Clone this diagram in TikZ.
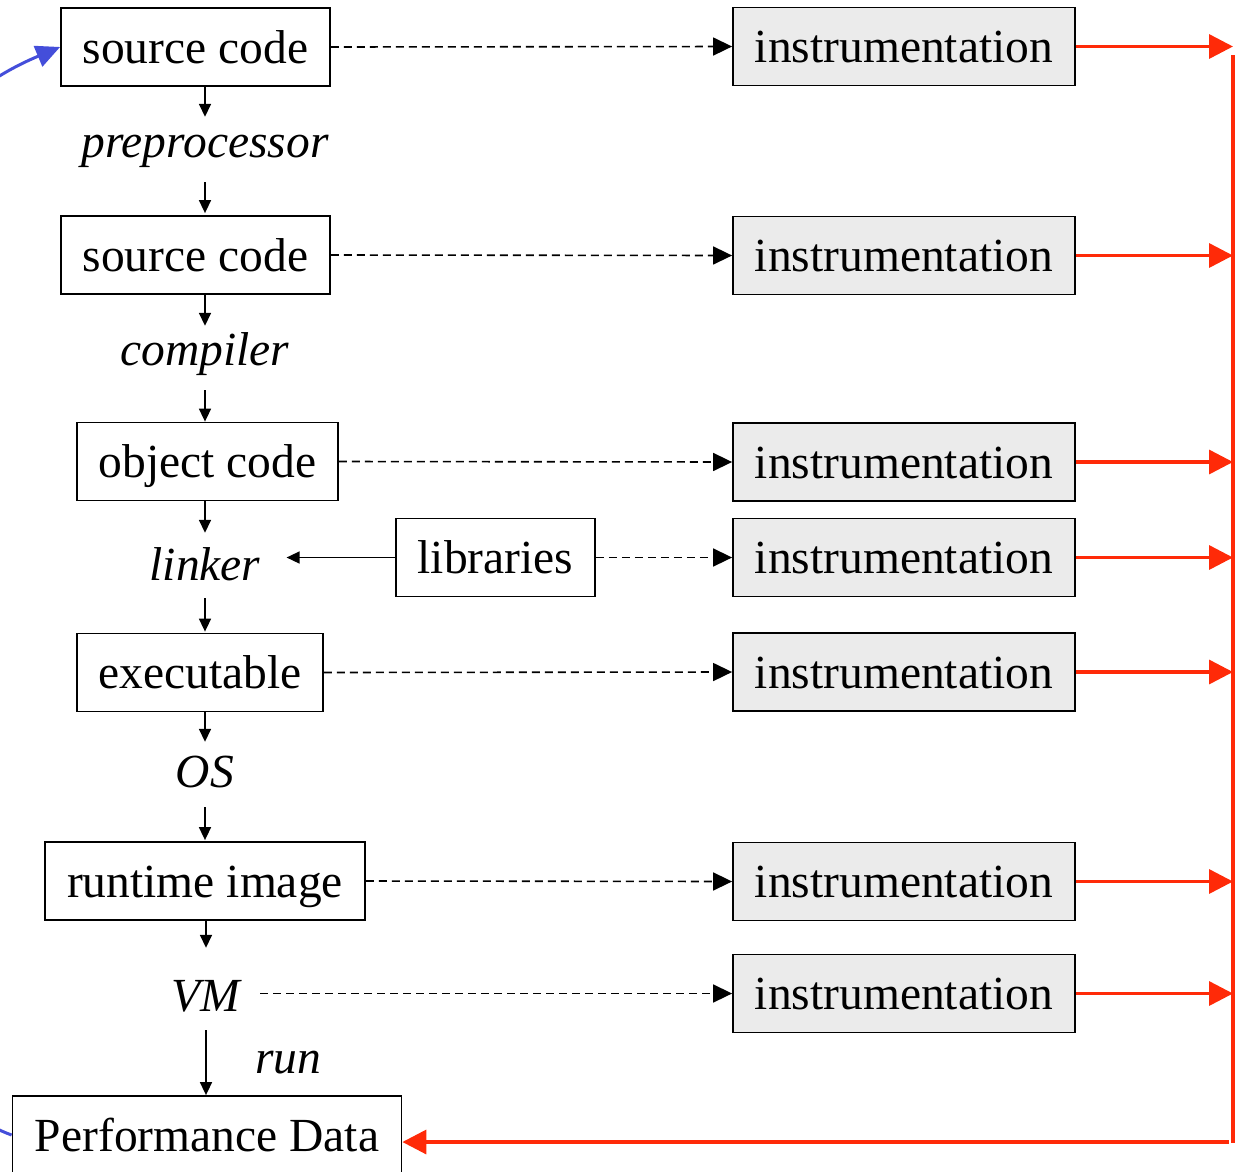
\documentclass[tikz,border=0pt]{standalone}
\usepackage{fontspec}
\setmainfont{Liberation Serif}
\usetikzlibrary{arrows.meta}
\definecolor{railred}{RGB}{255,42,8}
\definecolor{loopblue}{RGB}{68,78,218}
\definecolor{instrgray}{RGB}{235,235,235}
\begin{document}
\begin{tikzpicture}[x=1pt,y=-1pt,
  every node/.style={font=\fontsize{47.5pt}{57pt}\selectfont},
  stage/.style={draw, line width=1.8pt, minimum height=78pt, inner sep=0pt,
                text height=32pt, text depth=0pt},
  instr/.style={stage, fill=instrgray, minimum width=342pt},
  lbl/.style={anchor=base, inner sep=0pt, text height=33pt, text depth=10pt,
              font=\fontsize{47.5pt}{57pt}\selectfont\itshape},
  flow/.style={line width=1.6pt, -{Triangle[length=13pt,width=12pt]}},
  probe/.style={line width=1.6pt, dash pattern=on 8pt off 5pt,
                -{Triangle[length=19pt,width=18pt]}},
  feed/.style={draw=railred, line width=3.5pt, -{Triangle[length=24pt,width=24pt]}},
  rail/.style={draw=railred, line width=3.5pt},
  loop/.style={draw=loopblue, line width=3pt, -{Triangle[length=24pt,width=22pt]}},
]
\useasboundingbox (0,0) rectangle (1240,1171);
\clip (0,0) rectangle (1240,1171);

% build pipeline
\node[stage, minimum width=269pt] (src1) at (195.5,47) {source code};
\node[stage, minimum width=269pt] (src2) at (195.5,255) {source code};
\node[stage, minimum width=261pt] (obj) at (207.5,461.5) {object code};
\node[stage, minimum width=199pt] (lib) at (495.5,557.5) {libraries};
\node[stage, minimum width=246pt] (exe) at (200,672.5) {executable};
\node[stage, minimum width=320pt] (rt) at (205,881) {runtime image};
\node[stage, minimum width=389pt] (perf) at (207,1135) {Performance Data};

% tools between stages
\node[lbl] (pre) at (205,157) {preprocessor};
\node[lbl] (comp) at (205,365) {compiler};
\node[lbl] (link) at (205,580) {linker};
\node[lbl] (os) at (205,787) {OS};
\node[lbl] (vm) at (206,1011) {VM};
\node[lbl] (run) at (288.5,1073) {run};

% instrumentation points
\node[instr] (i1) at (904,46.5) {instrumentation};
\node[instr] (i2) at (904,255.5) {instrumentation};
\node[instr] (i3) at (904,462) {instrumentation};
\node[instr] (i4) at (904,557.5) {instrumentation};
\node[instr] (i5) at (904,672) {instrumentation};
\node[instr] (i6) at (904,881.5) {instrumentation};
\node[instr] (i7) at (904,993.5) {instrumentation};

% collecting rail
\coordinate (railtop) at (1233,55);
\coordinate (railbot) at (1233,1143);
\coordinate (retl) at (1229,1142);

% pipeline arrows
\draw[flow, shorten >=7pt] (pre.north |- src1.south) -- (pre.north);
\draw[flow, shorten <=15pt, shorten >=2pt] (pre.south) -- (pre.south |- src2.north);
\draw[flow, shorten >=6pt] (comp.north |- src2.south) -- (comp.north);
\draw[flow, shorten <=15pt] (comp.south) -- (comp.south |- obj.north);
\draw[flow, shorten >=14pt] (link.north |- obj.south) -- (link.north);
\draw[flow, shorten <=8pt, shorten >=1pt] (link.south) -- (link.south |- exe.north);
\draw[flow, shorten >=12pt] (os.north |- exe.south) -- (os.north);
\draw[flow, shorten <=10pt, shorten >=1pt] (os.south) -- (os.south |- rt.north);
\draw[flow, shorten >=30pt] (vm.north |- rt.south) -- (vm.north);
\draw[flow, shorten <=9pt] (vm.south) -- (vm.south |- perf.north);
\draw[flow, shorten >=26pt] (lib.west) -- (link.east |- lib.west);

% instrumentation probes
\draw[probe] (src1.east) -- (i1.west);
\draw[probe] (src2.east) -- (i2.west);
\draw[probe] (obj.east) -- (i3.west);
\draw[probe] (lib.east) -- (i4.west);
\draw[probe] (exe.east) -- (i5.west);
\draw[probe] (rt.east) -- (i6.west);
\draw[probe, shorten <=20pt] (vm.east |- i7.west) -- (i7.west);

% measurements flow into the rail and back to the data
\foreach \k in {1,...,7}
  \draw[feed] (i\k.east) -- (i\k.east -| railtop);
\draw[rail] (railtop) -- (railbot);
\draw[feed] (retl) -- (perf.east |- retl);

% tuning loop back to the source
\draw[loop] (perf.west) .. controls (-100,1095) and (-180,900) .. (-180,590)
  .. controls (-180,250) and (-90,110) .. (src1.west);
\end{tikzpicture}
\end{document}
